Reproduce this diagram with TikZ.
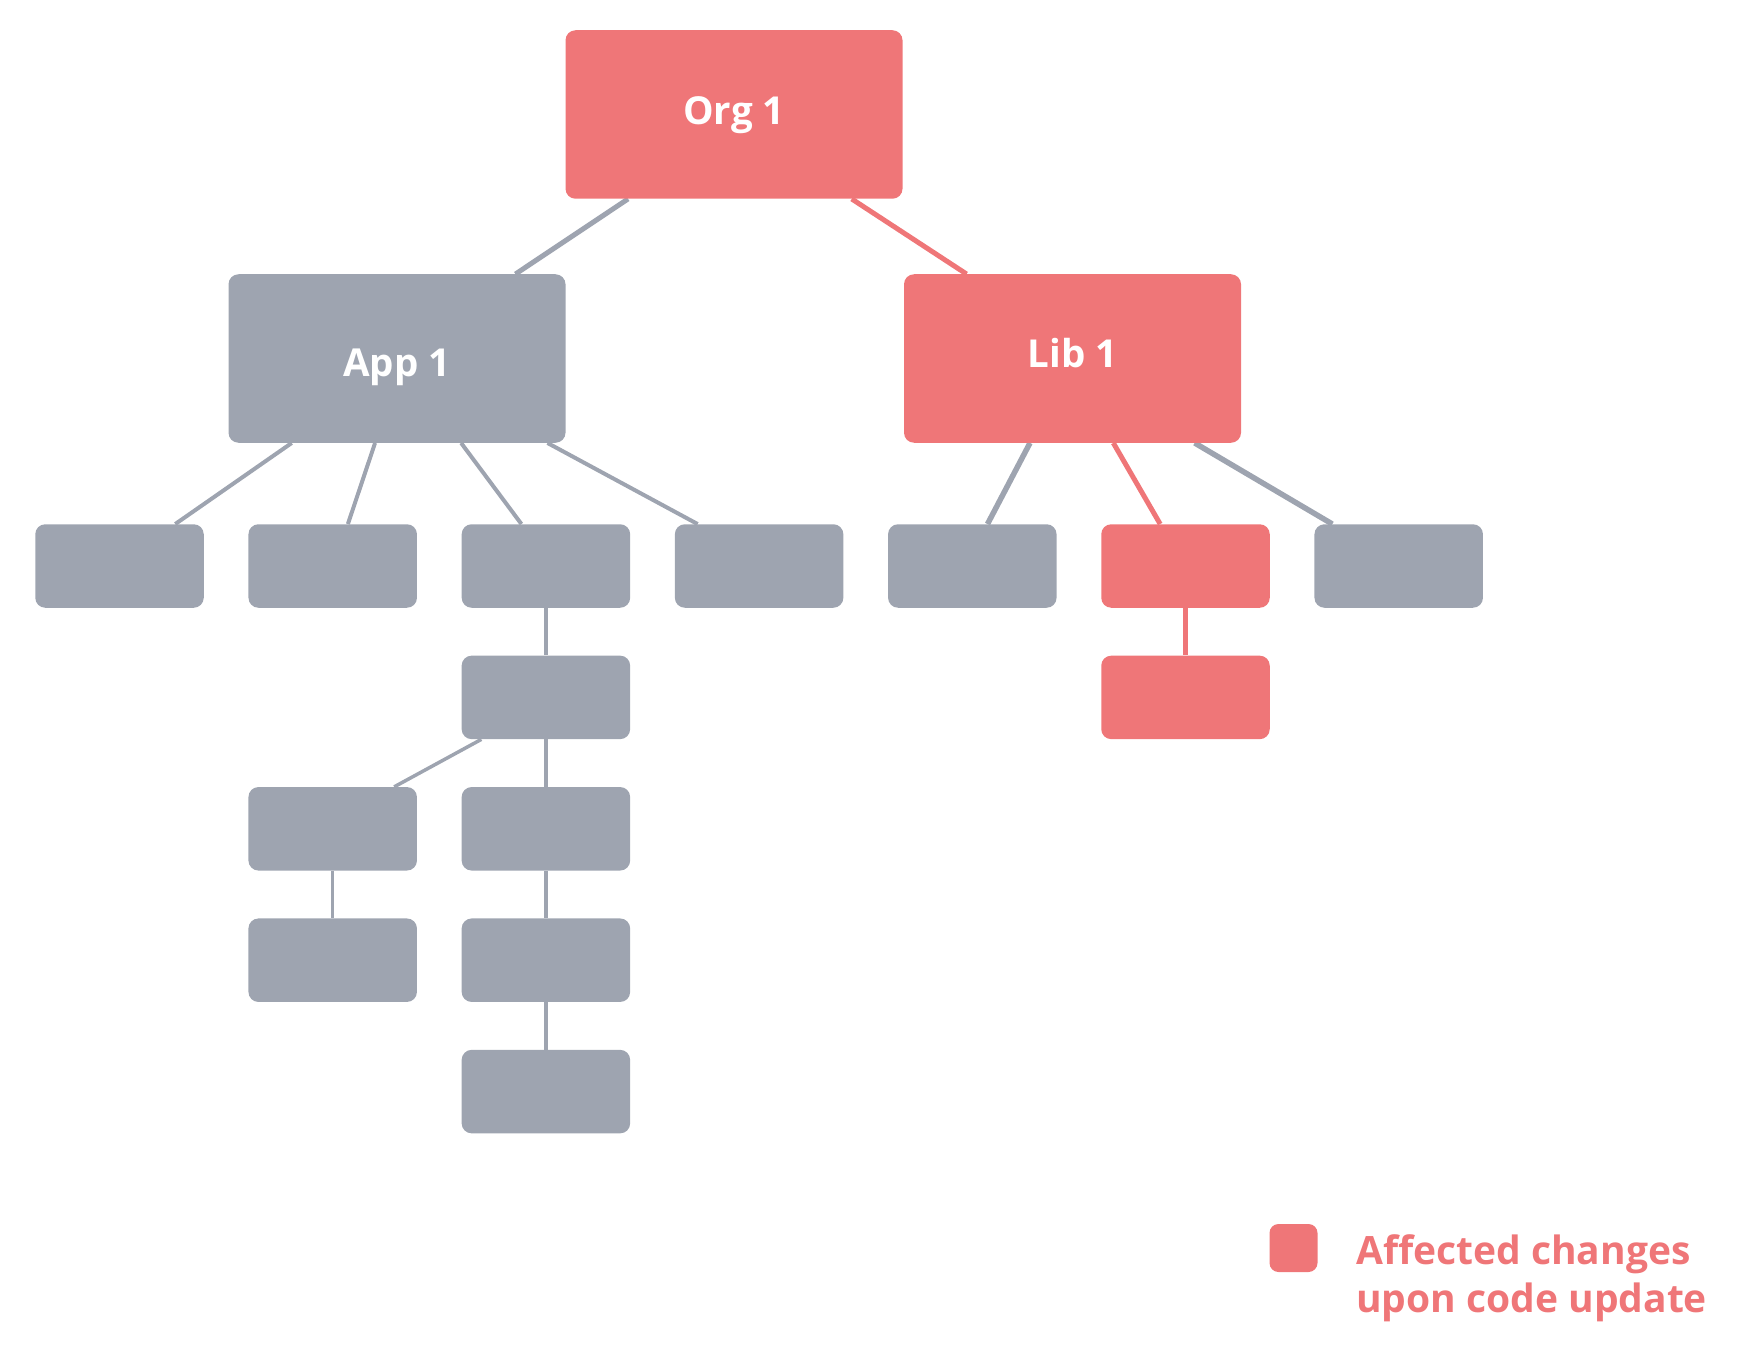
\documentclass[tikz,border=0pt]{standalone}
\usepackage{fontspec}
\setmainfont{Open Sans}
\definecolor{affectedred}{RGB}{239,118,120}
\definecolor{nodegray}{RGB}{158,164,176}
\usetikzlibrary{
  backgrounds,
  calc,
  positioning,
}
\tikzset{
  box/.style={rectangle,rounded corners=10pt,minimum width=168.5pt,minimum height=83.5pt,inner sep=0pt},
  bigbox/.style={box,minimum width=337pt,minimum height=168.5pt,text=white,text depth=0pt,font=\fontsize{38.5}{46}\selectfont\bfseries},
  graybox/.style={box,fill=nodegray},
  redbox/.style={box,fill=affectedred},
  grayline/.style={draw=nodegray,line width=#1},
  redline/.style={draw=affectedred,line width=#1},
}

\begin{document}
\begin{tikzpicture}[x=1pt,y=-1pt,node distance=47.5pt and 44.3pt]
      \useasboundingbox (0,0) rectangle (1742,1348);

      \node[bigbox,fill=affectedred,text height=20.5pt]    (org)  at (734,114.5)  {Org 1};
      \node[bigbox,fill=nodegray,text height=36.5pt]    (app)  at (397,358.5)  {App 1};
      \node[bigbox,fill=affectedred,text height=17.5pt]    (lib)  at (1072.5,358.5)  {Lib 1};

      \node[graybox]    (a1)  at (119.5,566)  {};
      \node[graybox]    (a2)  [right=of a1]  {};
      \node[graybox]    (a3)  [right=of a2]  {};
      \node[graybox]    (a4)  [right=of a3]  {};
      \node[graybox]    (l1)  [right=of a4]  {};
      \node[redbox]    (l2)  [right=of l1]  {};
      \node[graybox]    (l3)  [right=of l2]  {};

      \node[redbox]    (l2a)  [below=of l2]  {};

      \node[graybox]    (m1)  [below=of a3]  {};
      \node[graybox]    (m2r)  [below=of m1]  {};
      \node[graybox]    (m2l)  [left=of m2r]  {};
      \node[graybox]    (m3r)  [below=of m2r]  {};
      \node[graybox]    (m3l)  [below=of m2l]  {};
      \node[graybox]    (m4)  [below=of m3r]  {};

      \node[redbox,minimum width=48pt,minimum height=48pt,rounded corners=9pt]    (key)  at (1293.5,1248)  {};
      \node[text=affectedred,font=\fontsize{39}{48}\selectfont\bfseries,align=left,anchor=north west,inner sep=0pt]    (keytext)  at (1356,1234)  {Affected changes\\upon code update};

      \begin{scope}[on background layer]
        \draw[grayline=5pt] ($(org.south west)!.186!(org.south east)$) -- ($(app.north west)!.851!(app.north east)$);
        \draw[redline=5pt] ($(org.south west)!.849!(org.south east)$) -- ($(lib.north west)!.186!(lib.north east)$);

        \draw[grayline=4pt] ($(app.south west)!.188!(app.south east)$) -- ($(a1.north west)!.83!(a1.north east)$);
        \draw[grayline=4pt] ($(app.south west)!.435!(app.south east)$) -- ($(a2.north west)!.59!(a2.north east)$);
        \draw[grayline=4pt] ($(app.south west)!.69!(app.south east)$) -- ($(a3.north west)!.355!(a3.north east)$);
        \draw[grayline=4pt] ($(app.south west)!.946!(app.south east)$) -- ($(a4.north west)!.136!(a4.north east)$);

        \draw[grayline=5.5pt] ($(lib.south west)!.374!(lib.south east)$) -- ($(l1.north west)!.59!(l1.north east)$);
        \draw[redline=5pt] ($(lib.south west)!.621!(lib.south east)$) -- ($(l2.north west)!.35!(l2.north east)$);
        \draw[grayline=5.5pt] ($(lib.south west)!.862!(lib.south east)$) -- ($(l3.north west)!.107!(l3.north east)$);
        \draw[redline=5pt] (l2.south) -- (l2a.north);

        \draw[grayline=3.5pt] (a3.south) -- (m1.north);
        \draw[grayline=3.5pt] ($(m1.south west)!.118!(m1.south east)$) -- ($(m2l.north west)!.864!(m2l.north east)$);
        \draw[grayline=3.5pt] (m1.south) -- (m2r.north);
        \draw[grayline=3.5pt] (m2l.south) -- (m3l.north);
        \draw[grayline=3.5pt] (m2r.south) -- (m3r.north);
        \draw[grayline=3.5pt] (m3r.south) -- (m4.north);
      \end{scope}

    \end{tikzpicture}
\end{document}
